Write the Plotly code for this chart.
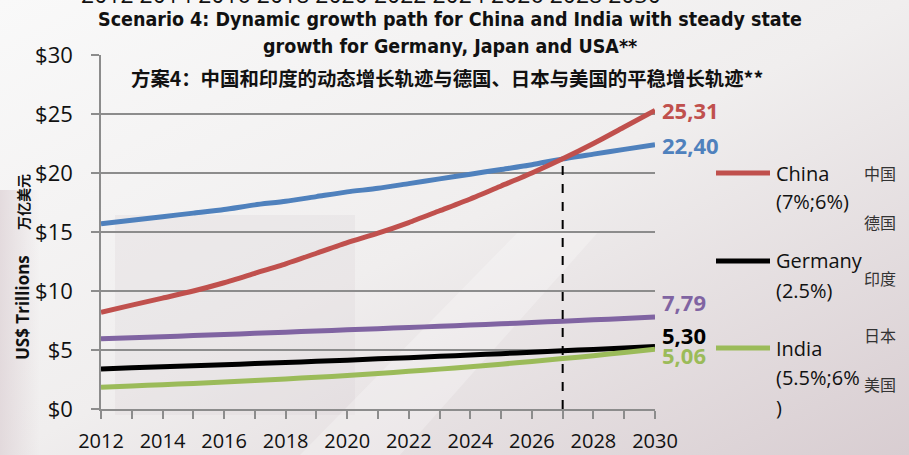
import base64
import plotly.graph_objects as go

# ---- data (US$ trillions) ----
years = list(range(2012, 2031))
usa = [15.70, 16.00, 16.30, 16.60, 16.90, 17.30, 17.60, 18.00, 18.40, 18.70,
       19.10, 19.50, 19.90, 20.30, 20.70, 21.20, 21.60, 22.00, 22.40]
china = [8.20, 8.80, 9.40, 10.00, 10.70, 11.50, 12.30, 13.20, 14.10, 14.90,
         15.80, 16.80, 17.80, 18.90, 20.00, 21.20, 22.50, 23.90, 25.31]
japan = [5.95, 6.04, 6.13, 6.22, 6.32, 6.41, 6.51, 6.61, 6.71, 6.81,
         6.91, 7.01, 7.12, 7.22, 7.33, 7.44, 7.56, 7.67, 7.79]
germany = [3.40, 3.49, 3.57, 3.66, 3.75, 3.85, 3.94, 4.04, 4.14, 4.25,
           4.35, 4.46, 4.57, 4.69, 4.81, 4.93, 5.05, 5.17, 5.30]
india = [1.85, 1.95, 2.06, 2.17, 2.29, 2.42, 2.55, 2.69, 2.84, 3.01,
         3.19, 3.38, 3.58, 3.80, 4.03, 4.27, 4.52, 4.79, 5.06]
crossover_year = 2027

year_labels = [str(y) if y % 2 == 0 else "" for y in years]

legend_names = ["China", "(7%;6%)", "Germany", "(2.5%)", "India", "(5.5%;6%", ")"]
legend_cn = ["中国", "德国", "印度", "日本", "美国"]

title_en = ("<b>Scenario 4: Dynamic growth path for China and India with steady state</b>",
            "<b>growth for Germany, Japan and USA**</b>")
title_cn = "<b>方案4：中国和印度的动态增长轨迹与德国、日本与美国的平稳增长轨迹**</b>"

RED, BLUE, PURPLE, BLACK, GREEN = "#C0504D", "#4F81BD", "#8064A2", "#000000", "#9BBB59"
GRID = "#8c8c8c"

W, H = 909, 455
ML, MR, MT, MB = 101, 254, 55, 46
PW, PH = W - ML - MR, H - MT - MB


def px(x):
    return (x - ML) / PW


def py(y):
    return (H - MB - y) / PH


fig = go.Figure()

series = [("USA", usa, BLUE), ("China", china, RED), ("Japan", japan, PURPLE),
          ("Germany", germany, BLACK), ("India", india, GREEN)]
for name, vals, col in series:
    fig.add_trace(go.Scatter(x=years, y=vals, mode="lines", name=name,
                             line=dict(color=col, width=5, shape="spline", smoothing=0.6),
                             cliponaxis=False, showlegend=False))

# dashed marker where China overtakes the USA
ci = years.index(crossover_year)
fig.add_trace(go.Scatter(x=[crossover_year, crossover_year], y=[0, china[ci]], mode="lines",
                         line=dict(color="black", width=2, dash="dash"), showlegend=False,
                         cliponaxis=False))

# end-of-line value labels
end_labels = [(china, RED, 0), (usa, BLUE, 0), (japan, PURPLE, 15),
              (germany, BLACK, 11), (india, GREEN, -6)]
ann = []
for vals, col, ys in end_labels:
    ann.append(dict(x=years[-1], y=vals[-1], xref="x", yref="y", xanchor="left",
                    yanchor="middle", xshift=5, yshift=ys, showarrow=False,
                    text="<b>" + f"{vals[-1]:.2f}".replace(".", ",") + "</b>",
                    font=dict(family="Open Sans", size=22, color=col)))

# titles
TF = "DejaVu Sans Condensed, Open Sans"
ann.append(dict(x=px(450), y=py(19), xref="paper", yref="paper", text=title_en[0],
                showarrow=False, xanchor="center", yanchor="middle",
                font=dict(family=TF, size=19.5, color="#111")))
ann.append(dict(x=px(450), y=py(47), xref="paper", yref="paper", text=title_en[1],
                showarrow=False, xanchor="center", yanchor="middle",
                font=dict(family=TF, size=19.5, color="#111")))
ann.append(dict(x=px(447), y=py(77), xref="paper", yref="paper", text=title_cn,
                showarrow=False, xanchor="center", yanchor="middle",
                font=dict(family="Noto Sans CJK SC", size=19.4, color="#111")))
# axis label row of the chart above, cut by the top edge
ann.append(dict(x=px(371), y=py(12), xref="paper", yref="paper",
                text="2012 2014 2016 2018 2020 2022 2024 2026 2028 2030",
                showarrow=False, xanchor="center", yanchor="bottom",
                font=dict(family="Open Sans", size=23, color="#111")))

# y-axis titles
ann.append(dict(x=px(22), y=py(308), xref="paper", yref="paper", text="<b>US$ Trillions</b>",
                showarrow=False, textangle=-90, xanchor="center", yanchor="middle",
                font=dict(family="Open Sans", size=17, color="#111")))
ann.append(dict(x=px(23), y=py(202), xref="paper", yref="paper", text="<b>万亿美元</b>",
                showarrow=False, textangle=-90, xanchor="center", yanchor="middle",
                font=dict(family="Noto Sans CJK SC", size=14, color="#111")))

# legend (China, Germany, India)
shapes = []
leg_rows = [(RED, 173), (BLACK, 261), (GREEN, 348)]
for col, yy in leg_rows:
    shapes.append(dict(type="line", xref="paper", yref="paper", x0=px(716), x1=px(770),
                       y0=py(yy), y1=py(yy), line=dict(color=col, width=5)))
leg_text_y = [173, 201, 260, 290, 348, 377, 407]
for t, yy in zip(legend_names, leg_text_y):
    ann.append(dict(x=px(774), y=py(yy), xref="paper", yref="paper", text=t,
                    showarrow=False, xanchor="left", yanchor="middle",
                    font=dict(family="Open Sans", size=20, color="#111")))
for t, yy in zip(legend_cn, [173, 222, 278, 335, 384]):
    ann.append(dict(x=px(880), y=py(yy), xref="paper", yref="paper", text=t,
                    showarrow=False, xanchor="center", yanchor="middle",
                    font=dict(family="Noto Sans CJK SC", size=16, color="#333")))

# soft slide background
svg = (f"<svg xmlns='http://www.w3.org/2000/svg' width='{W}' height='{H}'>"
       "<defs><linearGradient id='g' x1='0' y1='0' x2='1' y2='1'>"
       "<stop offset='0' stop-color='#f9f9f9'/><stop offset='0.5' stop-color='#f0eeee'/>"
       "<stop offset='1' stop-color='#d8cdd1'/></linearGradient>"
       "<linearGradient id='s' x1='0' y1='0' x2='1' y2='0'>"
       "<stop offset='0' stop-color='#dcd0d4' stop-opacity='0.7'/>"
       "<stop offset='1' stop-color='#dcd0d4' stop-opacity='0'/></linearGradient></defs>"
       f"<rect width='{W}' height='{H}' fill='url(#g)'/>"
       "<rect x='0' y='190' width='40' height='265' fill='url(#s)'/>"
       "<rect x='115' y='215' width='240' height='200' fill='#d8d0d3' fill-opacity='0.25'/>"
       "<polygon points='300,455 520,230 600,230 400,455' fill='#ffffff' fill-opacity='0.25'/>"
       "</svg>")
src = "data:image/svg+xml;base64," + base64.b64encode(svg.encode()).decode()

fig.update_layout(
    width=W, height=H,
    margin=dict(l=ML, r=MR, t=MT, b=MB, pad=0, autoexpand=False),
    paper_bgcolor="#f0eeee", plot_bgcolor="rgba(0,0,0,0)",
    images=[dict(source=src, xref="paper", yref="paper", x=px(0), y=py(0),
                 sizex=W / PW, sizey=H / PH, xanchor="left", yanchor="top",
                 sizing="stretch", layer="below")],
    annotations=ann, shapes=shapes, showlegend=False,
    xaxis=dict(range=[2012, 2030], tickvals=years, ticktext=year_labels, automargin=False,
               showgrid=False, zeroline=False, showline=True, linecolor=GRID, linewidth=1.5,
               ticks="outside", ticklen=8, tickcolor=GRID, tickwidth=1.5,
               ticklabelstandoff=5,
               tickfont=dict(family="Open Sans", size=20, color="#111")),
    yaxis=dict(range=[0, 30], dtick=5, tickprefix="$", showgrid=True, gridcolor=GRID,
               automargin=False,
               gridwidth=1.5, zeroline=False, showline=True, linecolor=GRID, linewidth=1.5,
               ticks="outside", ticklen=8, tickcolor=GRID, tickwidth=1.5,
               ticklabelstandoff=14,
               tickfont=dict(family="Open Sans", size=22, color="#111")),
)

fig.write_html("out.html")
